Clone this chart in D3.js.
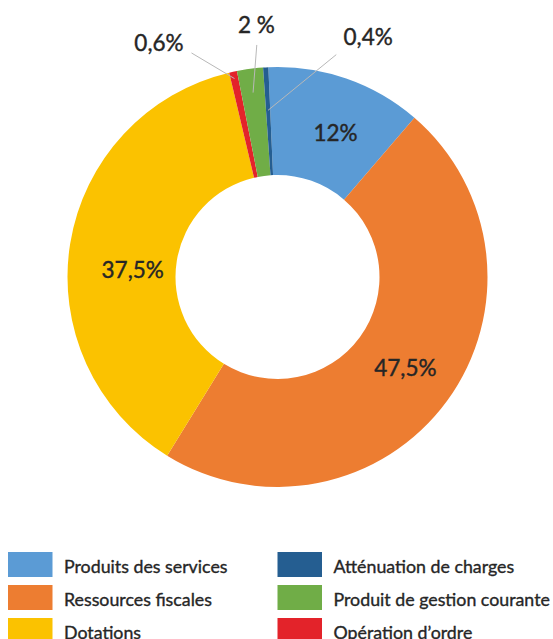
<!DOCTYPE html>
<html>
<head>
<meta charset="utf-8">
<script src="https://cdn.jsdelivr.net/npm/d3@7"></script>
<style>
  body { margin: 0; background: #fff; }
  svg { display: block; font-family: Lato, "Noto Sans", sans-serif; }
</style>
</head>
<body>
<div id="chart"></div>
<script>
// slice order clockwise from the top
const categories = ["Produits des services", "Ressources fiscales", "Dotations",
    "Opération d’ordre", "Produit de gestion courante", "Atténuation de charges"];
const values = [12, 47.5, 37.5, 0.6, 2, 0.4];
const labels = ["12%", "47,5%", "37,5%", "0,6%", "2 %", "0,4%"];

// legend order (column by column)
const legendOrder = ["Produits des services", "Ressources fiscales", "Dotations",
    "Atténuation de charges", "Produit de gestion courante", "Opération d’ordre"];

const colours = {
    "Produits des services": "#5B9BD5",
    "Ressources fiscales": "#ED7D31",
    "Dotations": "#FBC200",
    "Opération d’ordre": "#E3232A",
    "Produit de gestion courante": "#70AD47",
    "Atténuation de charges": "#255E91"
};

// label placement: angle (deg, clockwise from top) and radius; leader line if outside
const labelPos = [
    {a: 22, r: 155}, {a: 125.5, r: 157}, {a: 273, r: 145},
    {a: 333.1, r: 262, lead: [339, 240]},
    {a: 355.2, r: 253, lead: [354.9, 233]},
    {a: 20.7, r: 256.5, lead: [14.8, 230]}
];
const leadEnd = [0, 0, 0, 203, 186, 167];

const W = 553, H = 639;
const cx = 277.5, cy = 277, rOuter = 210, rInner = 102;
const toRad = d => d * Math.PI / 180;
const polar = (deg, r) => [Math.sin(toRad(deg)) * r, -Math.cos(toRad(deg)) * r];

const svg = d3.select("#chart").append("svg").attr("width", W).attr("height", H);
const g = svg.append("g").attr("transform", `translate(${cx},${cy})`);

const pie = d3.pie().sort(null).value(d => d)
    .startAngle(toRad(-2.5)).endAngle(toRad(357.5));
const arcs = pie(values);
const arc = d3.arc().innerRadius(rInner).outerRadius(rOuter);

g.selectAll("path.slice").data(arcs).enter().append("path")
    .attr("class", "slice")
    .attr("d", arc)
    .attr("fill", (d, i) => colours[categories[i]]);

// leader lines for the small slices
arcs.forEach((d, i) => {
    const p = labelPos[i];
    if (!p.lead) return;
    const mid = (d.startAngle + d.endAngle) / 2 * 180 / Math.PI;
    const [x1, y1] = polar(p.lead[0], p.lead[1]);
    const [x2, y2] = polar(mid, leadEnd[i]);
    g.append("line").attr("x1", x1).attr("y1", y1).attr("x2", x2).attr("y2", y2)
        .attr("stroke", "#b8b8b8").attr("stroke-width", 1);
});

// value labels
g.selectAll("text.val").data(arcs).enter().append("text")
    .attr("class", "val")
    .attr("transform", (d, i) => `translate(${polar(labelPos[i].a, labelPos[i].r)})`)
    .attr("text-anchor", "middle")
    .attr("dy", "0.36em")
    .style("font-size", "22.5px")
    .style("fill", "#262626")
    .style("stroke", "#262626").style("stroke-width", 0.4)
    .text((d, i) => labels[i]);

// Legend, two columns of three
const legend = svg.append("g");
legendOrder.forEach((name, i) => {
    const col = Math.floor(i / 3), row = i % 3;
    const lg = legend.append("g").attr("transform", `translate(${8 + col * 269.5}, ${552 + row * 33})`);
    lg.append("rect").attr("width", 44.5).attr("height", 25).attr("fill", colours[name]);
    lg.append("text").attr("x", 56).attr("y", 21.3).style("font-size", "17.8px")
        .style("fill", "#262626")
        .style("stroke", "#262626").style("stroke-width", 0.35)
        .text(name);
});
</script>
</body>
</html>
